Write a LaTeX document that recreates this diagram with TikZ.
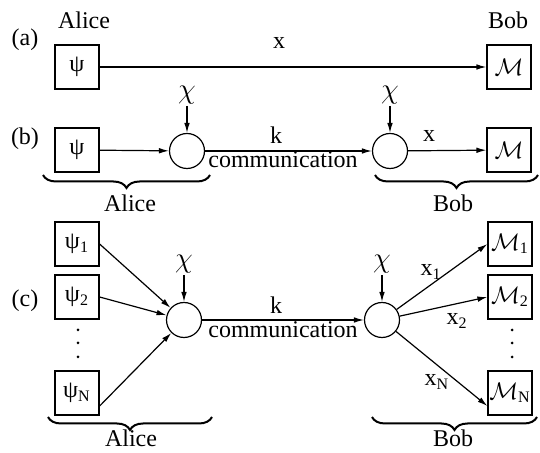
\documentclass[tikz,border=0pt]{standalone}
\usepackage{fontspec}
\setmainfont{Liberation Serif}
\usetikzlibrary{arrows.meta,decorations.pathreplacing}

\tikzset{
  box/.style={draw, minimum width=22pt, minimum height=22pt, inner sep=0pt},
  gate/.style={draw, circle, minimum size=17.5pt, inner sep=0pt},
  arr/.style={-{Latex[length=5pt,width=2.8pt]}},
  brc/.style={decorate, decoration={brace, mirror, amplitude=6.5pt}, line width=1pt},
  chi/.style={anchor=south, inner sep=0.5pt, font=\fontsize{15}{16}\selectfont},
}
\newcommand{\chisym}{$\chi$}

\begin{document}
\begin{tikzpicture}[x=0.5pt, y=-0.5pt, font=\fontsize{12}{14}\selectfont, line width=0.6pt]
      \useasboundingbox (0,0) rectangle (540,453);

      %% (a) direct
      \node (labA) at (25,40) {(a)};
      \node (aliceA) at (84,20) {Alice};
      \node (bobA) at (508,20) {Bob};
      \node[box] (psiA) at (77,67) {ψ};
      \node[box] (measA) at (509,67) {$\mathcal{M}$};
      \node (xA) at (279,43) {x};
      \draw[arr] (psiA) -- (measA);

      %% (b) one copy
      \node (labB) at (25,139) {(b)};
      \node[box] (psiB) at (77,150) {ψ};
      \node[gate] (encB) at (187,151) {};
      \node[gate] (decB) at (390,151) {};
      \node[box] (measB) at (509,150) {$\mathcal{M}$};
      \node[chi] (chiEncB) at (187,106) {\chisym};
      \node[chi] (chiDecB) at (390,106) {\chisym};
      \draw[arr] (psiB) -- (encB);
      \draw[arr] (encB) -- (decB);
      \draw[arr] (decB) -- (measB);
      \draw[arr] (chiEncB) -- (encB);
      \draw[arr] (chiDecB) -- (decB);
      \node (kB) at (276,135) {k};
      \node (commB) at (283,160) {communication};
      \node (xB) at (429,136) {x};
      \draw[brc] (43,175) -- (210,175);
      \draw[brc] (375,175) -- (538,175);
      \node (aliceB) at (130,203) {Alice};
      \node (bobB) at (453,203) {Bob};

      %% (c) N copies
      \node (labC) at (25,301) {(c)};
      \node[box] (psiC1) at (77,244) {ψ\textsubscript{1}};
      \node[box] (psiC2) at (77,297) {ψ\textsubscript{2}};
      \node[box] (psiCN) at (77,393) {ψ\textsubscript{N}};
      \foreach \y in {330,343,357} {
        \fill (78,\y) circle (1.5); }
      \node[gate] (encC) at (184,320) {};
      \node[gate] (decC) at (382,320) {};
      \node[chi] (chiEncC) at (184,275) {\chisym};
      \node[chi] (chiDecC) at (382,275) {\chisym};
      \node[box] (measC1) at (510,244) {$\mathcal{M}$\textsubscript{1}};
      \node[box] (measC2) at (510,297) {$\mathcal{M}$\textsubscript{2}};
      \node[box] (measCN) at (510,393) {$\mathcal{M}$\textsubscript{N}};
      \foreach \y in {330,343,357} {
        \fill (512,\y) circle (1.5); }
      \draw[arr] (psiC1.east) -- (encC);
      \draw[arr] (psiC2.east) -- (encC);
      \draw[arr] (psiCN.-30) -- (encC);
      \draw[arr] (chiEncC) -- (encC);
      \draw[arr] (encC) -- (decC);
      \draw[arr] (chiDecC) -- (decC);
      \draw[arr] (decC) -- (measC1.west);
      \draw[arr] (decC) -- (measC2.west);
      \draw[arr] (decC) -- (measCN.-150);
      \node (kC) at (276,305) {k};
      \node (commC) at (283,330) {communication};
      \node (xC1) at (431,272) {x\textsubscript{1}};
      \node (xC2) at (457,321) {x\textsubscript{2}};
      \node (xCN) at (437,382) {x\textsubscript{N}};
      \draw[brc] (48,417) -- (212,417);
      \draw[brc] (372,417) -- (537,417);
      \node (aliceC) at (131,438) {Alice};
      \node (bobC) at (453,438) {Bob};

\end{tikzpicture}
\end{document}
